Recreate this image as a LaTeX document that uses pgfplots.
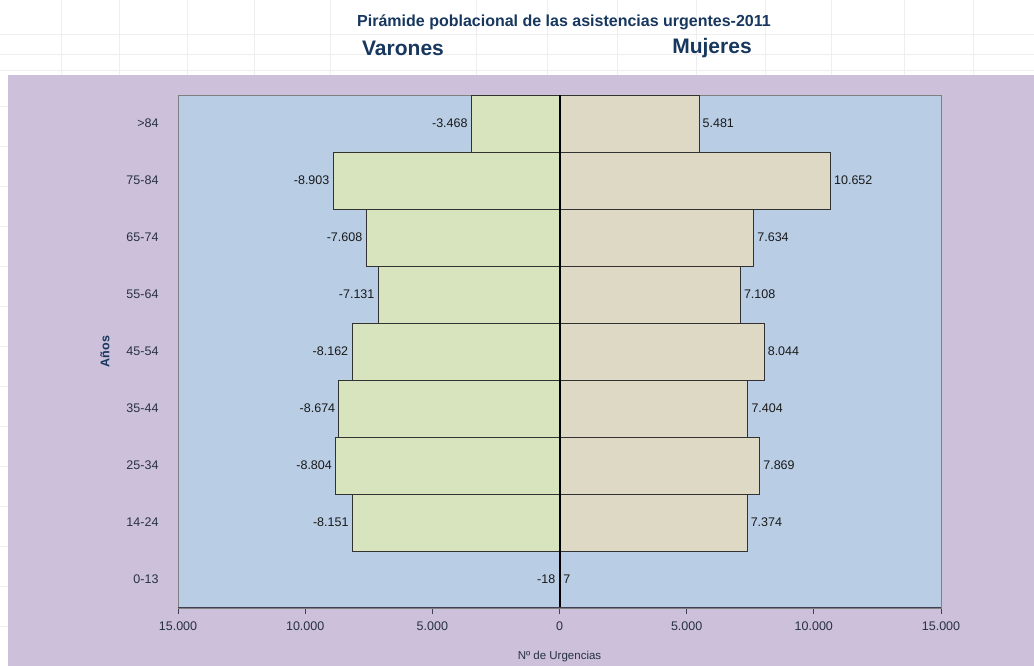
\documentclass[border=0pt]{standalone}
\usepackage{fontspec}
\setmainfont{Liberation Sans}
\usepackage{pgfplots}
\pgfplotsset{compat=1.18}
\definecolor{chartbg}{RGB}{204,192,218}
\definecolor{plotbg}{RGB}{185,205,229}
\definecolor{mencol}{RGB}{215,228,189}
\definecolor{womcol}{RGB}{221,217,196}
\definecolor{titlecol}{RGB}{23,55,94}
\definecolor{tickcol}{RGB}{40,48,68}
\definecolor{gridcol}{RGB}{238,238,238}
\definecolor{barline}{RGB}{50,50,50}
\definecolor{axiscol}{RGB}{64,64,80}

\begin{document}
\begin{tikzpicture}[x=1pt,y=1pt]
\path[use as bounding box] (0,0) rectangle (1034,666);
\fill[white] (0,0) rectangle (1034,666);
\foreach \gx in {61,119,187,254,330,476,547,617,696,765,831,904,973}
  \draw[gridcol, line width=0.8pt] (\gx,591) -- (\gx,666);
\foreach \gy in {632,612,596}
  \draw[gridcol, line width=0.8pt] (0,\gy) -- (1034,\gy);
\foreach \gy in {560,520,480,440,400,360,320,280,240,200,160,120,80,40}
  \draw[gridcol, line width=0.8pt] (0,\gy) -- (8,\gy);
\fill[chartbg] (8,0) rectangle (1034,591);
\node[titlecol, font=\bfseries\fontsize{16}{19}\selectfont] at (564,644) {Pirámide poblacional de las asistencias urgentes-2011};
\node[titlecol, font=\bfseries\fontsize{21}{25}\selectfont] at (403,618) {Varones};
\node[titlecol, font=\bfseries\fontsize{21}{25}\selectfont] at (712,618) {Mujeres};
\begin{axis}[
  at={(178pt,58pt)}, anchor=south west,
  scale only axis, width=763pt, height=513pt,
  xmin=-15000, xmax=15000, ymin=-0.5, ymax=8.5,
  axis background/.style={fill=plotbg},
  axis line style={draw=gray, line width=0.8pt},
  xbar, bar width=1, bar shift=0pt,
  scaled x ticks=false,
  ytick={0,...,8},
  yticklabels={0-13,14-24,25-34,35-44,45-54,55-64,65-74,75-84,>84},
  xtick={-15000,-10000,-5000,0,5000,10000,15000},
  xticklabels={15.000,10.000,5.000,0,5.000,10.000,15.000},
  y tick style={draw=none},
  x tick style={draw=axiscol, line width=1pt},
  tick align=outside, xtick pos=bottom, major tick length=6pt,
  yticklabel style={font=\fontsize{12.5}{14}\selectfont, text=tickcol, xshift=-10pt},
  xticklabel style={font=\fontsize{12.5}{14}\selectfont, text=tickcol, yshift=-4pt},
  xlabel={Nº de Urgencias},
  ylabel={Años},
  xlabel style={at={(axis description cs:0.5,-0.0955)}, anchor=center, font=\fontsize{11.5}{13}\selectfont, text=tickcol},
  ylabel style={at={(axis description cs:-0.0957,0.5)}, anchor=center, font=\bfseries\fontsize{12.5}{14}\selectfont, text=titlecol},
  nodes near coords,
  point meta=x,
  every node near coord/.append style={font=\fontsize{12.5}{14}\selectfont, text=black!90, /pgf/number format/.cd, fixed, precision=0, 1000 sep={.}, assume math mode=true},
]
\addplot[fill=mencol, draw=barline, line width=0.8pt] coordinates {
(-18,0) (-8151,1) (-8804,2) (-8674,3) (-8162,4) (-7131,5) (-7608,6) (-8903,7) (-3468,8)};
\addplot[fill=womcol, draw=barline, line width=0.8pt] coordinates {
(7,0) (7374,1) (7869,2) (7404,3) (8044,4) (7108,5) (7634,6) (10652,7) (5481,8)};
\draw[black, line width=2pt] (axis cs:0,-0.5) -- (axis cs:0,8.5);
\draw[axiscol, line width=2pt] (rel axis cs:0,0) -- (rel axis cs:1,0);
\end{axis}
\end{tikzpicture}
\end{document}
